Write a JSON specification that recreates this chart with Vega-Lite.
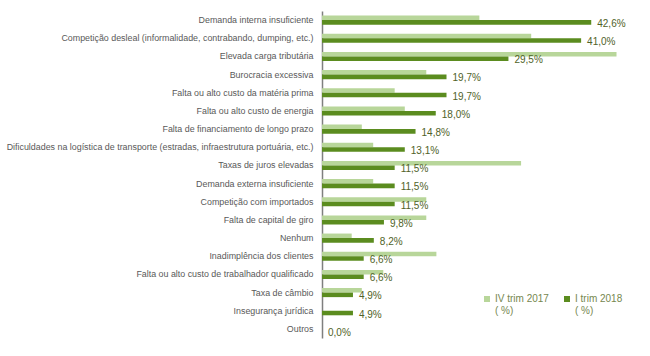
{
  "$schema": "https://vega.github.io/schema/vega-lite/v6.json",
  "width": 316,
  "height": 327,
  "autosize": {"type": "none"},
  "padding": {"left": 322, "top": 11, "right": 12, "bottom": 18},
  "background": "white",
  "config": {
    "view": {"stroke": null},
    "font": "Liberation Sans",
    "text": {"font": "Liberation Sans"}
  },
  "data": {
    "values": [
      {"cat": "Demanda interna insuficiente", "order": 1, "period": "IV trim 2017", "value": 24.9, "label": ""},
      {"cat": "Demanda interna insuficiente", "order": 1, "period": "I trim 2018", "value": 42.6, "label": "42,6%"},
      {"cat": "Competição desleal (informalidade, contrabando, dumping, etc.)", "order": 2, "period": "IV trim 2017", "value": 33.1, "label": ""},
      {"cat": "Competição desleal (informalidade, contrabando, dumping, etc.)", "order": 2, "period": "I trim 2018", "value": 41.0, "label": "41,0%"},
      {"cat": "Elevada carga tributária", "order": 3, "period": "IV trim 2017", "value": 46.6, "label": ""},
      {"cat": "Elevada carga tributária", "order": 3, "period": "I trim 2018", "value": 29.5, "label": "29,5%"},
      {"cat": "Burocracia excessiva", "order": 4, "period": "IV trim 2017", "value": 16.5, "label": ""},
      {"cat": "Burocracia excessiva", "order": 4, "period": "I trim 2018", "value": 19.7, "label": "19,7%"},
      {"cat": "Falta ou alto custo da matéria prima", "order": 5, "period": "IV trim 2017", "value": 11.5, "label": ""},
      {"cat": "Falta ou alto custo da matéria prima", "order": 5, "period": "I trim 2018", "value": 19.7, "label": "19,7%"},
      {"cat": "Falta ou alto custo de energia", "order": 6, "period": "IV trim 2017", "value": 13.1, "label": ""},
      {"cat": "Falta ou alto custo de energia", "order": 6, "period": "I trim 2018", "value": 18.0, "label": "18,0%"},
      {"cat": "Falta de financiamento de longo prazo", "order": 7, "period": "IV trim 2017", "value": 6.3, "label": ""},
      {"cat": "Falta de financiamento de longo prazo", "order": 7, "period": "I trim 2018", "value": 14.8, "label": "14,8%"},
      {"cat": "Dificuldades na logística de transporte (estradas, infraestrutura portuária, etc.)", "order": 8, "period": "IV trim 2017", "value": 8.1, "label": ""},
      {"cat": "Dificuldades na logística de transporte (estradas, infraestrutura portuária, etc.)", "order": 8, "period": "I trim 2018", "value": 13.1, "label": "13,1%"},
      {"cat": "Taxas de juros elevadas", "order": 9, "period": "IV trim 2017", "value": 31.5, "label": ""},
      {"cat": "Taxas de juros elevadas", "order": 9, "period": "I trim 2018", "value": 11.5, "label": "11,5%"},
      {"cat": "Demanda externa insuficiente", "order": 10, "period": "IV trim 2017", "value": 8.1, "label": ""},
      {"cat": "Demanda externa insuficiente", "order": 10, "period": "I trim 2018", "value": 11.5, "label": "11,5%"},
      {"cat": "Competição com importados", "order": 11, "period": "IV trim 2017", "value": 16.5, "label": ""},
      {"cat": "Competição com importados", "order": 11, "period": "I trim 2018", "value": 11.5, "label": "11,5%"},
      {"cat": "Falta de capital de giro", "order": 12, "period": "IV trim 2017", "value": 16.5, "label": ""},
      {"cat": "Falta de capital de giro", "order": 12, "period": "I trim 2018", "value": 9.8, "label": "9,8%"},
      {"cat": "Nenhum", "order": 13, "period": "IV trim 2017", "value": 4.7, "label": ""},
      {"cat": "Nenhum", "order": 13, "period": "I trim 2018", "value": 8.2, "label": "8,2%"},
      {"cat": "Inadimplência dos clientes", "order": 14, "period": "IV trim 2017", "value": 18.1, "label": ""},
      {"cat": "Inadimplência dos clientes", "order": 14, "period": "I trim 2018", "value": 6.6, "label": "6,6%"},
      {"cat": "Falta ou alto custo de trabalhador qualificado", "order": 15, "period": "IV trim 2017", "value": 9.7, "label": ""},
      {"cat": "Falta ou alto custo de trabalhador qualificado", "order": 15, "period": "I trim 2018", "value": 6.6, "label": "6,6%"},
      {"cat": "Taxa de câmbio", "order": 16, "period": "IV trim 2017", "value": 6.3, "label": ""},
      {"cat": "Taxa de câmbio", "order": 16, "period": "I trim 2018", "value": 4.9, "label": "4,9%"},
      {"cat": "Insegurança jurídica", "order": 17, "period": "IV trim 2017", "value": 0, "label": ""},
      {"cat": "Insegurança jurídica", "order": 17, "period": "I trim 2018", "value": 4.9, "label": "4,9%"},
      {"cat": "Outros", "order": 18, "period": "IV trim 2017", "value": 0, "label": ""},
      {"cat": "Outros", "order": 18, "period": "I trim 2018", "value": 0.0, "label": "0,0%"}
    ]
  },
  "encoding": {
    "y": {
      "field": "cat",
      "type": "nominal",
      "sort": {"field": "order", "op": "min"},
      "scale": {"paddingInner": 0.5, "paddingOuter": 0.25},
      "axis": {
        "title": null,
        "ticks": false,
        "domainColor": "#7f7f7f",
        "domainWidth": 1.5,
        "labelColor": "#595959",
        "labelFontSize": 8.9,
        "labelPadding": 9,
        "labelLimit": 400
      }
    },
    "yOffset": {
      "field": "period",
      "type": "nominal",
      "sort": ["IV trim 2017", "I trim 2018"]
    },
    "x": {
      "field": "value",
      "type": "quantitative",
      "scale": {"domain": [0, 50], "nice": false},
      "axis": null
    }
  },
  "layer": [
    {
      "mark": {"type": "bar"},
      "encoding": {
        "color": {
          "field": "period",
          "type": "nominal",
          "sort": ["IV trim 2017", "I trim 2018"],
          "scale": {"domain": ["IV trim 2017", "I trim 2018"], "range": ["#b8d69a", "#5b8c1f"]},
          "legend": {
            "title": null,
            "orient": "none",
            "legendX": 160,
            "legendY": 283,
            "direction": "horizontal",
            "symbolType": "square",
            "symbolSize": 36,
            "symbolStrokeWidth": 0,
            "labelFontSize": 10,
            "labelColor": "#76874f",
            "labelOffset": 3,
            "columnPadding": 13,
            "labelExpr": "[datum.label, '( %)']"
          }
        }
      }
    },
    {
      "transform": [{"filter": "datum.period == 'I trim 2018'"}],
      "mark": {"type": "text", "align": "left", "baseline": "middle", "dx": 6, "dy": 1.5, "fontSize": 10, "color": "#4f6228"},
      "encoding": {
        "text": {"field": "label"}
      }
    }
  ]
}
